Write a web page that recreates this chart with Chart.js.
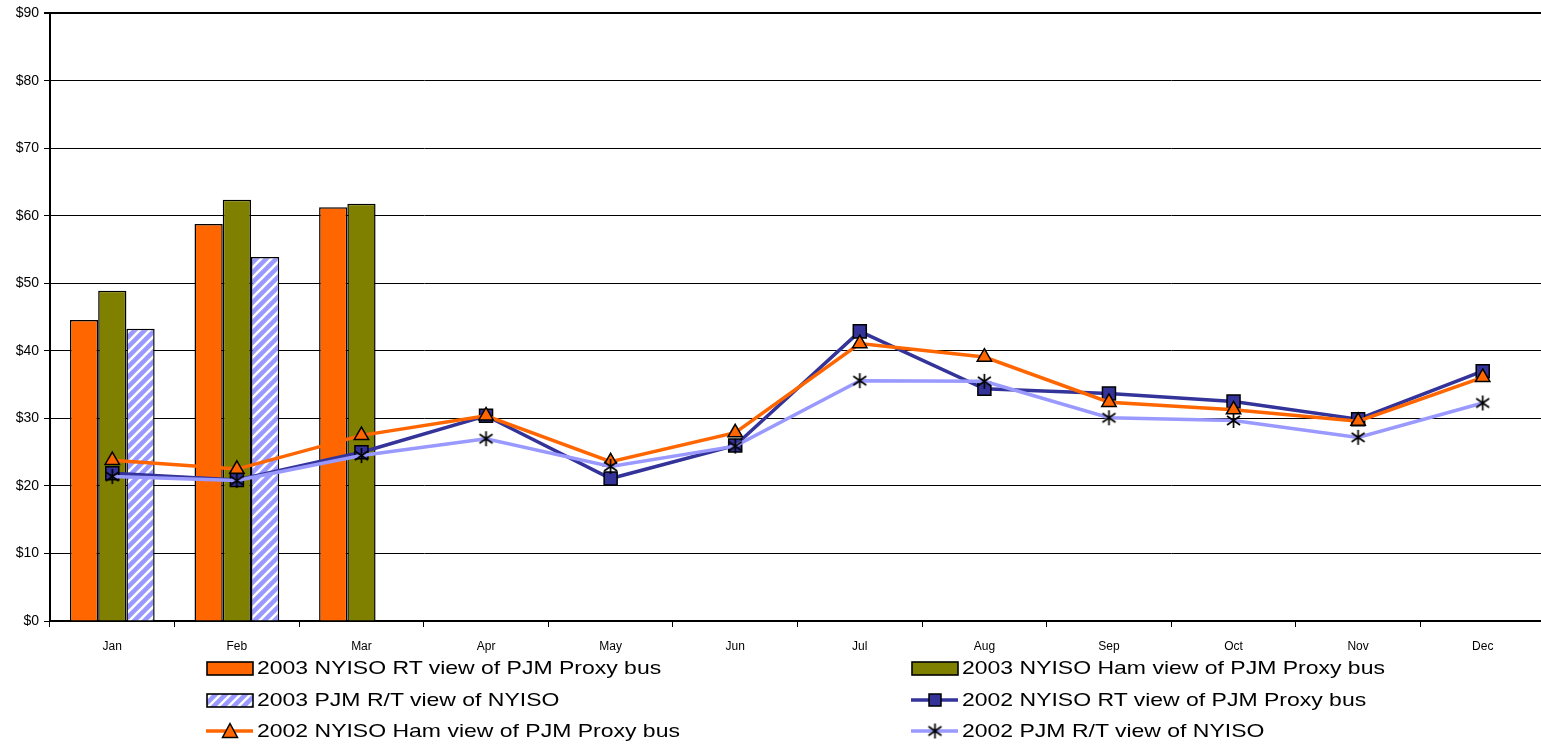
<!DOCTYPE html>
<html>
<head>
<meta charset="utf-8">
<script src="https://cdn.jsdelivr.net/npm/chart.js@4"></script>
<style>
  html, body { margin: 0; padding: 0; background: #fff; overflow: hidden; }
  #wrap { position: relative; width: 1541px; height: 745px; overflow: hidden; }
  #c { position: absolute; left: 0; top: 0; }
  .lg { position: absolute; font-family: "Liberation Sans", Arial, sans-serif; font-size: 19px; color: #000; white-space: nowrap; line-height: 22px; }
  .lg canvas { position: absolute; left: 0; top: 0; }
  .lg span { position: absolute; left: 51px; top: 0; transform: scaleX(1.21); transform-origin: 0 50%; }
</style>
</head>
<body>
<div id="wrap">
  <canvas id="c" width="1545" height="745"></canvas>
</div>
<script>
const months = ['Jan','Feb','Mar','Apr','May','Jun','Jul','Aug','Sep','Oct','Nov','Dec'];
const yTicks = [0,10,20,30,40,50,60,70,80,90];
const rt2003  = [44.6, 58.8, 61.3, null, null, null, null, null, null, null, null, null];
const ham2003 = [48.9, 62.4, 61.8, null, null, null, null, null, null, null, null, null];
const pjm2003 = [43.3, 53.9, null, null, null, null, null, null, null, null, null, null];
const rt2002  = [21.9, 20.9, 25.0, 30.4, 21.1, 26.0, 42.9, 34.4, 33.7, 32.5, 29.9, 37.0];
const ham2002 = [23.8, 22.5, 27.5, 30.4, 23.6, 27.9, 41.1, 39.1, 32.4, 31.3, 29.6, 36.1];
const pjm2002 = [21.4, 20.8, 24.5, 27.0, 22.9, 25.9, 35.6, 35.5, 30.1, 29.7, 27.2, 32.3];
const names = [
  '2003 NYISO RT view of PJM Proxy bus',
  '2003 NYISO Ham view of PJM Proxy bus',
  '2003 PJM R/T view of NYISO',
  '2002 NYISO RT view of PJM Proxy bus',
  '2002 NYISO Ham view of PJM Proxy bus',
  '2002 PJM R/T view of NYISO'
];

const ORANGE = '#FF6600', OLIVE = '#808000', NAVY = '#333399', LILAC = '#9999FF';

function makeHatch(ctx) {
  const p = document.createElement('canvas');
  p.width = 10; p.height = 10;
  const g = p.getContext('2d');
  g.fillStyle = LILAC; g.fillRect(0, 0, 10, 10);
  g.strokeStyle = '#fff'; g.lineWidth = 2.6;
  g.beginPath();
  g.moveTo(-2, 12); g.lineTo(12, -2);
  g.moveTo(-2, 2); g.lineTo(2, -2);
  g.moveTo(8, 12); g.lineTo(12, 8);
  g.stroke();
  return ctx.createPattern(p, 'repeat');
}
function makeAsterisk() {
  const s = document.createElement('canvas');
  s.width = 17; s.height = 17;
  const g = s.getContext('2d');
  g.strokeStyle = '#000'; g.lineWidth = 1.7;
  g.beginPath();
  g.moveTo(8.5, 1); g.lineTo(8.5, 16);
  g.moveTo(2, 4); g.lineTo(15, 13);
  g.moveTo(2, 13); g.lineTo(15, 4);
  g.stroke();
  return s;
}

const canvas = document.getElementById('c');
const ctx = canvas.getContext('2d');
const hatch = makeHatch(ctx);
const aster = makeAsterisk();

new Chart(ctx, {
  data: {
    labels: months,
    datasets: [
      { type: 'bar', label: names[0], data: rt2003, backgroundColor: ORANGE, borderColor: '#000', borderWidth: 1.5, order: 10 },
      { type: 'bar', label: names[1], data: ham2003, backgroundColor: OLIVE, borderColor: '#000', borderWidth: 1.5, order: 10 },
      { type: 'bar', label: names[2], data: pjm2003, backgroundColor: hatch, borderColor: '#000', borderWidth: 1.5, order: 10 },
      { type: 'line', label: names[3], data: rt2002, borderColor: NAVY, borderWidth: 3.5, pointStyle: 'rect', pointRadius: 9.2, pointBackgroundColor: NAVY, pointBorderColor: '#000', pointBorderWidth: 1.5, tension: 0, order: 3 },
      { type: 'line', label: names[4], data: ham2002, borderColor: ORANGE, borderWidth: 3.5, pointStyle: 'triangle', pointRadius: 8.3, pointBackgroundColor: ORANGE, pointBorderColor: '#000', pointBorderWidth: 1.5, tension: 0, order: 2 },
      { type: 'line', label: names[5], data: pjm2002, borderColor: LILAC, borderWidth: 3.5, pointStyle: aster, pointRadius: 8, tension: 0, order: 1 }
    ]
  },
  options: {
    responsive: false,
    animation: false,
    events: [],
    layout: { autoPadding: false, padding: { top: 12, right: 0, bottom: 84, left: 0 } },
    datasets: { bar: { categoryPercentage: 0.68, barPercentage: 1.0 } },
    plugins: { legend: { display: false }, title: { display: false }, tooltip: { enabled: false } },
    scales: {
      x: {
        offset: true,
        grid: { offset: true, drawOnChartArea: false, drawTicks: true, tickLength: 6, color: '#000', lineWidth: 1 },
        border: { color: '#000', width: 2 },
        ticks: { color: '#000', font: { family: 'Liberation Sans', size: 12 }, padding: 12, maxRotation: 0, autoSkip: false },
        afterFit: s => { s.height = 40; }
      },
      y: {
        min: 0, max: 90,
        afterBuildTicks: s => { s.ticks = yTicks.map(v => ({ value: v })); },
        grid: { color: '#000', lineWidth: c => (c.tick && c.tick.value === 90) ? 2 : 1, drawTicks: true, tickLength: 6 },
        border: { color: '#000', width: 2 },
        ticks: { color: '#000', font: { family: 'Liberation Sans', size: 14 }, padding: 5, callback: v => '$' + v },
        afterFit: s => { s.width = 50; }
      }
    }
  }
});

// HTML legend
const wrap = document.getElementById('wrap');
const legendItems = [
  { i: 0, x: 206, y: 657, kind: 'bar', fill: ORANGE },
  { i: 1, x: 911, y: 657, kind: 'bar', fill: OLIVE },
  { i: 2, x: 206, y: 689, kind: 'bar', fill: 'hatch' },
  { i: 3, x: 911, y: 689, kind: 'line', color: NAVY, marker: 'rect' },
  { i: 4, x: 206, y: 720, kind: 'line', color: ORANGE, marker: 'tri' },
  { i: 5, x: 911, y: 720, kind: 'line', color: LILAC, marker: 'aster' }
];
legendItems.forEach(it => {
  const d = document.createElement('div');
  d.className = 'lg';
  d.style.left = it.x + 'px';
  d.style.top = it.y + 'px';
  const cv = document.createElement('canvas');
  cv.width = 50; cv.height = 22;
  const g = cv.getContext('2d');
  if (it.kind === 'bar') {
    g.fillStyle = it.fill === 'hatch' ? makeHatch(g) : it.fill;
    g.fillRect(1, 5, 46, 13);
    g.strokeStyle = '#000'; g.lineWidth = 1.6;
    g.strokeRect(1, 5, 46, 13);
  } else {
    g.strokeStyle = it.color; g.lineWidth = 3.5;
    g.beginPath(); g.moveTo(0, 11); g.lineTo(47, 11); g.stroke();
    g.lineWidth = 1.5; g.strokeStyle = '#000';
    if (it.marker === 'rect') {
      g.fillStyle = NAVY; g.fillRect(18, 5, 12, 12); g.strokeRect(18, 5, 12, 12);
    } else if (it.marker === 'tri') {
      g.fillStyle = ORANGE; g.beginPath(); g.moveTo(24, 3.5); g.lineTo(31.5, 17.5); g.lineTo(16.5, 17.5); g.closePath(); g.fill(); g.stroke();
    } else {
      g.drawImage(aster, 15.5, 2.5);
    }
  }
  d.appendChild(cv);
  const sp = document.createElement('span');
  sp.textContent = names[it.i];
  d.appendChild(sp);
  wrap.appendChild(d);
});
</script>
</body>
</html>
